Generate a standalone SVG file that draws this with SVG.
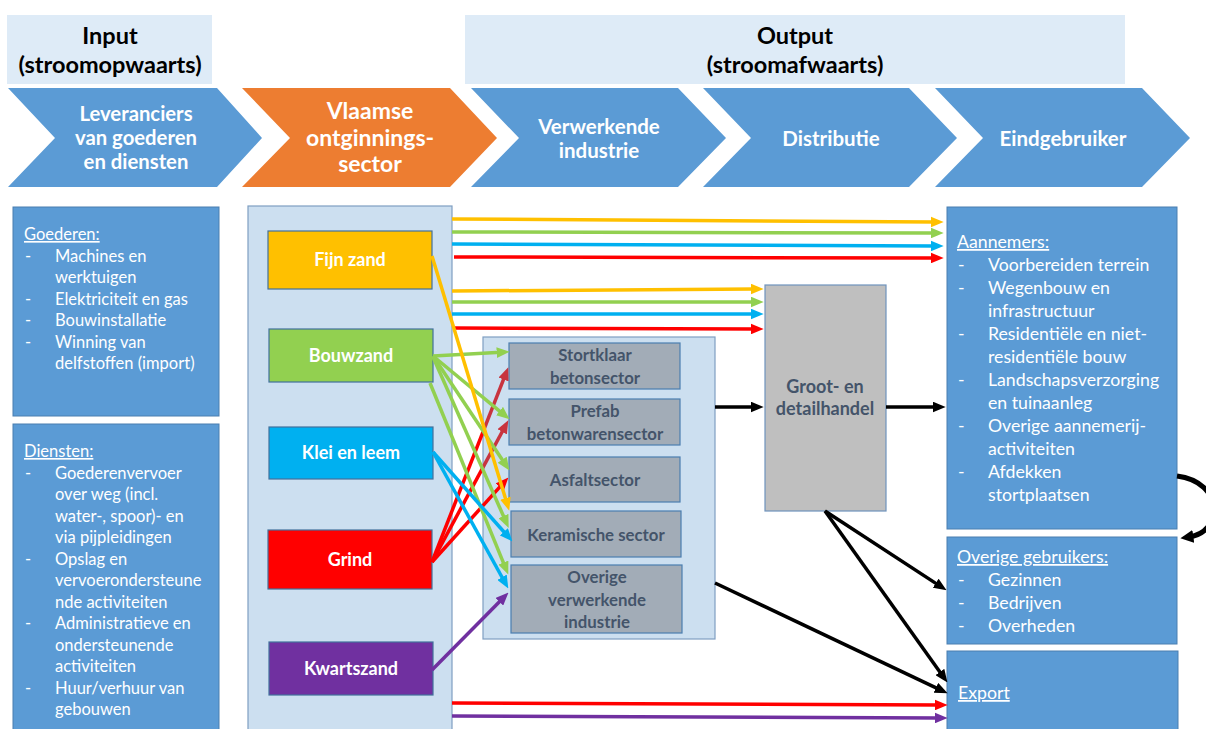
<svg xmlns="http://www.w3.org/2000/svg" width="1206" height="729" viewBox="0 0 1206 729">
<style>
text{font-family:Lato,"Open Sans","Liberation Sans",sans-serif}
.hdr{fill:#DEEBF7}
.hdrt{font-size:23.5px;font-weight:bold;fill:#000;text-anchor:middle}
.chev{fill:#5B9BD5}
.chevt{font-size:20.5px;font-weight:bold;fill:#fff;text-anchor:middle}
.bluebox{fill:#5B9BD5;stroke:#4A7EB0;stroke-width:1}
.lt{font-size:16.5px;fill:#fff}
.rt{font-size:17.7px;fill:#fff}
.cont{fill:#CCDFF0;stroke:#7F9FC2;stroke-width:1.2}
.mat{stroke:#41719C;stroke-width:1.2}
.matt{font-size:18px;font-weight:bold;fill:#fff;text-anchor:middle}
.proc{fill:#A2ACB7;stroke:#4A7EB0;stroke-width:1.2}
.proct{font-size:16.8px;font-weight:bold;fill:#44546A;text-anchor:middle}
.c{fill:none;stroke-width:3.5}
.y{stroke:#FFC000}.g{stroke:#92D050}.b{stroke:#00B0F0}.r{stroke:#FF0000}.rc{stroke:#C8343F}.p{stroke:#7030A0}.k{stroke:#000}
</style>
<defs>
<marker id="my" viewBox="0 0 12 10" markerWidth="13" markerHeight="11" refX="4" refY="5" orient="auto" markerUnits="userSpaceOnUse"><path d="M0,0 L12,5 L0,10 z" fill="#FFC000"/></marker>
<marker id="mg" viewBox="0 0 12 10" markerWidth="13" markerHeight="11" refX="4" refY="5" orient="auto" markerUnits="userSpaceOnUse"><path d="M0,0 L12,5 L0,10 z" fill="#92D050"/></marker>
<marker id="mb" viewBox="0 0 12 10" markerWidth="13" markerHeight="11" refX="4" refY="5" orient="auto" markerUnits="userSpaceOnUse"><path d="M0,0 L12,5 L0,10 z" fill="#00B0F0"/></marker>
<marker id="mr" viewBox="0 0 12 10" markerWidth="13" markerHeight="11" refX="4" refY="5" orient="auto" markerUnits="userSpaceOnUse"><path d="M0,0 L12,5 L0,10 z" fill="#FF0000"/></marker>
<marker id="mrc" viewBox="0 0 12 10" markerWidth="13" markerHeight="11" refX="4" refY="5" orient="auto" markerUnits="userSpaceOnUse"><path d="M0,0 L12,5 L0,10 z" fill="#C8343F"/></marker>
<marker id="mp" viewBox="0 0 12 10" markerWidth="13" markerHeight="11" refX="4" refY="5" orient="auto" markerUnits="userSpaceOnUse"><path d="M0,0 L12,5 L0,10 z" fill="#7030A0"/></marker>
<marker id="mk" viewBox="0 0 12 10" markerWidth="13" markerHeight="11" refX="4" refY="5" orient="auto" markerUnits="userSpaceOnUse"><path d="M0,0 L12,5 L0,10 z" fill="#000"/></marker>
<marker id="mk2" viewBox="0 0 12 12" markerWidth="13" markerHeight="13" refX="4" refY="6" orient="auto" markerUnits="userSpaceOnUse"><path d="M0,0 L12,6 L0,12 z" fill="#000"/></marker>
</defs>
<rect width="1206" height="729" fill="#fff"/>

<g id="hdr-input"><rect class="hdr" x="7" y="15" width="205" height="69"/><text class="hdrt" x="110" y="44">Input</text><text class="hdrt" x="110" y="73">(stroomopwaarts)</text></g>
<g id="hdr-output"><rect class="hdr" x="465" y="15" width="660" height="69"/><text class="hdrt" x="795" y="44">Output</text><text class="hdrt" x="795" y="73">(stroomafwaarts)</text></g>

<g id="chev-leveranciers"><polygon class="chev" points="8,88 217,88 262,138 217,187 8,187 55,138"/><text class="chevt" style="font-size:20.3px" x="136" y="121">Leveranciers</text><text class="chevt" style="font-size:20.3px" x="136" y="145">van goederen</text><text class="chevt" style="font-size:20.3px" x="136" y="169">en diensten</text></g>
<g id="chev-vlaamse"><polygon points="242,88 450,88 497,138 450,187 242,187 290,138" fill="#ED7D31"/><text class="chevt" style="font-size:23px" x="370" y="119">Vlaamse</text><text class="chevt" style="font-size:23px" x="370" y="146">ontginnings-</text><text class="chevt" style="font-size:23px" x="370" y="172">sector</text></g>
<g id="chev-verwerkende"><polygon class="chev" points="471,88 678,88 726,138 678,187 471,187 519,138"/><text class="chevt" x="599" y="134">Verwerkende</text><text class="chevt" x="599" y="158">industrie</text></g>
<g id="chev-distributie"><polygon class="chev" points="703,88 909,88 957,138 909,187 703,187 751,138"/><text class="chevt" x="831" y="146">Distributie</text></g>
<g id="chev-eindgebruiker"><polygon class="chev" points="935,88 1142,88 1190,138 1142,187 935,187 983,138"/><text class="chevt" x="1063" y="146">Eindgebruiker</text></g>

<g id="box-goederen"><rect class="bluebox" x="13" y="207" width="206" height="209"/>
<text class="lt" x="24" y="240" text-decoration="underline">Goederen:</text>
<text class="lt" x="25" y="261.5">-</text><text class="lt" x="55" y="261.5">Machines en</text>
<text class="lt" x="55" y="283">werktuigen</text>
<text class="lt" x="25" y="304.5">-</text><text class="lt" x="55" y="304.5">Elektriciteit en gas</text>
<text class="lt" x="25" y="326">-</text><text class="lt" x="55" y="326">Bouwinstallatie</text>
<text class="lt" x="25" y="347.5">-</text><text class="lt" x="55" y="347.5">Winning van</text>
<text class="lt" x="55" y="369">delfstoffen (import)</text></g>

<g id="box-diensten"><rect class="bluebox" x="13" y="424" width="206" height="320"/>
<text class="lt" x="24" y="457" text-decoration="underline">Diensten:</text>
<text class="lt" x="25" y="478.5">-</text><text class="lt" x="55" y="478.5">Goederenvervoer</text>
<text class="lt" x="55" y="500">over weg (incl.</text>
<text class="lt" x="55" y="521.5">water-, spoor)- en</text>
<text class="lt" x="55" y="543">via pijpleidingen</text>
<text class="lt" x="25" y="564.5">-</text><text class="lt" x="55" y="564.5">Opslag en</text>
<text class="lt" x="55" y="586">vervoerondersteune</text>
<text class="lt" x="55" y="607.5">nde activiteiten</text>
<text class="lt" x="25" y="629">-</text><text class="lt" x="55" y="629">Administratieve en</text>
<text class="lt" x="55" y="650.5">ondersteunende</text>
<text class="lt" x="55" y="672">activiteiten</text>
<text class="lt" x="25" y="693.5">-</text><text class="lt" x="55" y="693.5">Huur/verhuur van</text>
<text class="lt" x="55" y="715">gebouwen</text></g>

<g id="container-ontginning"><rect class="cont" x="248" y="206" width="204" height="540"/></g>
<g id="mat-fijnzand"><rect class="mat" x="268" y="231" width="164" height="58" fill="#FFC000"/><text class="matt" x="350" y="266">Fijn zand</text></g>
<g id="mat-bouwzand"><rect class="mat" x="269" y="329" width="164" height="53" fill="#92D050"/><text class="matt" x="351" y="362">Bouwzand</text></g>
<g id="mat-klei"><rect class="mat" x="269" y="427" width="164" height="52" fill="#00B0F0"/><text class="matt" x="351" y="459">Klei en leem</text></g>
<g id="mat-grind"><rect class="mat" x="268" y="530" width="164" height="59" fill="#FF0000"/><text class="matt" x="350" y="566">Grind</text></g>
<g id="mat-kwartszand"><rect class="mat" x="269" y="642" width="164" height="53" fill="#7030A0"/><text class="matt" x="351" y="675">Kwartszand</text></g>

<g id="container-verwerkend"><rect class="cont" x="483" y="337" width="232" height="302"/></g>
<g id="proc-stortklaar"><rect class="proc" x="509" y="343" width="171" height="46"/><text class="proct" x="595" y="361">Stortklaar</text><text class="proct" x="595" y="384">betonsector</text></g>
<g id="proc-prefab"><rect class="proc" x="509" y="399" width="171" height="46"/><text class="proct" x="595" y="417">Prefab</text><text class="proct" x="595" y="440">betonwarensector</text></g>
<g id="proc-asfalt"><rect class="proc" x="509" y="457" width="171" height="45"/><text class="proct" x="595" y="486">Asfaltsector</text></g>
<g id="proc-keramisch"><rect class="proc" x="511" y="511" width="170" height="46"/><text class="proct" x="596" y="541">Keramische sector</text></g>
<g id="proc-overige"><rect class="proc" x="511" y="565" width="171" height="68"/><text class="proct" x="597" y="583">Overige</text><text class="proct" x="597" y="606">verwerkende</text><text class="proct" x="597" y="628">industrie</text></g>

<g id="box-handel"><rect x="765" y="285" width="121" height="226" fill="#BFBFBF" stroke="#6F93BD" stroke-width="1.2"/><text class="proct" style="font-size:18px" x="825" y="393">Groot- en</text><text class="proct" style="font-size:18px" x="825" y="415">detailhandel</text></g>

<g id="box-aannemers"><rect class="bluebox" x="947" y="207" width="230" height="322"/>
<text class="rt" x="957" y="248" text-decoration="underline">Aannemers:</text>
<text class="rt" x="958" y="271">-</text><text class="rt" x="988" y="271">Voorbereiden terrein</text>
<text class="rt" x="958" y="294">-</text><text class="rt" x="988" y="294">Wegenbouw en</text>
<text class="rt" x="988" y="317">infrastructuur</text>
<text class="rt" x="958" y="340">-</text><text class="rt" x="988" y="340">Residentiële en niet-</text>
<text class="rt" x="988" y="363">residentiële bouw</text>
<text class="rt" x="958" y="386">-</text><text class="rt" x="988" y="386">Landschapsverzorging</text>
<text class="rt" x="988" y="409">en tuinaanleg</text>
<text class="rt" x="958" y="432">-</text><text class="rt" x="988" y="432">Overige aannemerij-</text>
<text class="rt" x="988" y="455">activiteiten</text>
<text class="rt" x="958" y="478">-</text><text class="rt" x="988" y="478">Afdekken</text>
<text class="rt" x="988" y="501">stortplaatsen</text></g>

<g id="box-overige"><rect class="bluebox" x="947" y="537" width="230" height="107"/>
<text class="rt" x="957" y="563" text-decoration="underline">Overige gebruikers:</text>
<text class="rt" x="958" y="586">-</text><text class="rt" x="988" y="586">Gezinnen</text>
<text class="rt" x="958" y="609">-</text><text class="rt" x="988" y="609">Bedrijven</text>
<text class="rt" x="958" y="632">-</text><text class="rt" x="988" y="632">Overheden</text></g>

<g id="box-export"><rect class="bluebox" x="947" y="651" width="231" height="90"/>
<text class="rt" x="958" y="699" text-decoration="underline">Export</text></g>

<g id="connectors">
<line class="c y" x1="452" y1="219" x2="935" y2="222" marker-end="url(#my)"/>
<line class="c g" x1="452" y1="232" x2="935" y2="233" marker-end="url(#mg)"/>
<line class="c b" x1="452" y1="244" x2="935" y2="246" marker-end="url(#mb)"/>
<line class="c r" x1="454" y1="257" x2="935" y2="258" marker-end="url(#mr)"/>
<line class="c y" x1="452" y1="291" x2="755" y2="289" marker-end="url(#my)"/>
<line class="c g" x1="452" y1="302" x2="755" y2="302" marker-end="url(#mg)"/>
<line class="c b" x1="452" y1="314" x2="755" y2="314" marker-end="url(#mb)"/>
<line class="c r" x1="454" y1="328" x2="755" y2="329" marker-end="url(#mr)"/>
<line class="c r" x1="452" y1="703" x2="939" y2="705" marker-end="url(#mr)"/>
<line class="c p" x1="452" y1="716" x2="939" y2="718" marker-end="url(#mp)"/>

<line class="c r" x1="432" y1="562" x2="483" y2="431.8"/>
<line class="c rc" x1="483" y1="431.8" x2="505.1" y2="375.4" marker-end="url(#mrc)"/>
<line class="c r" x1="432" y1="562" x2="483" y2="467.4"/>
<line class="c rc" x1="483" y1="467.4" x2="504.2" y2="428" marker-end="url(#mrc)"/>
<line class="c r" x1="432" y1="562" x2="502.6" y2="483.9" marker-end="url(#mr)"/>
<line class="c g" x1="433" y1="356" x2="501" y2="352.3" marker-end="url(#mg)"/>
<line class="c g" x1="433" y1="356" x2="502.9" y2="413.8" marker-end="url(#mg)"/>
<line class="c g" x1="433" y1="356" x2="504.6" y2="463.3" marker-end="url(#mg)"/>
<line class="c g" x1="433" y1="357" x2="505.2" y2="520" marker-end="url(#mg)"/>
<line class="c g" x1="430" y1="383" x2="505" y2="566.6" marker-end="url(#mg)"/>
<line class="c b" x1="433" y1="452" x2="506.7" y2="535" marker-end="url(#mb)"/>
<line class="c b" x1="433" y1="452" x2="504.1" y2="581" marker-end="url(#mb)"/>
<line class="c y" x1="432" y1="256" x2="506.7" y2="502.4" marker-end="url(#my)"/>
<line class="c p" x1="432" y1="670" x2="502.4" y2="598.7" marker-end="url(#mp)"/>

<line class="c k" x1="715" y1="407" x2="755" y2="407" marker-end="url(#mk)"/>
<line class="c k" x1="886" y1="407" x2="937" y2="407" marker-end="url(#mk)"/>
<line class="c k" x1="825" y1="511" x2="939.3" y2="585.6" marker-end="url(#mk)"/>
<line class="c k" x1="825" y1="511" x2="942.4" y2="675.5" marker-end="url(#mk)"/>
<line class="c k" x1="715" y1="583" x2="939.8" y2="689.6" marker-end="url(#mk)"/>
<path class="c k" style="stroke-width:5" d="M1177,476 C1224,482 1224,532 1189,537" marker-end="url(#mk2)"/>
</g>
</svg>
